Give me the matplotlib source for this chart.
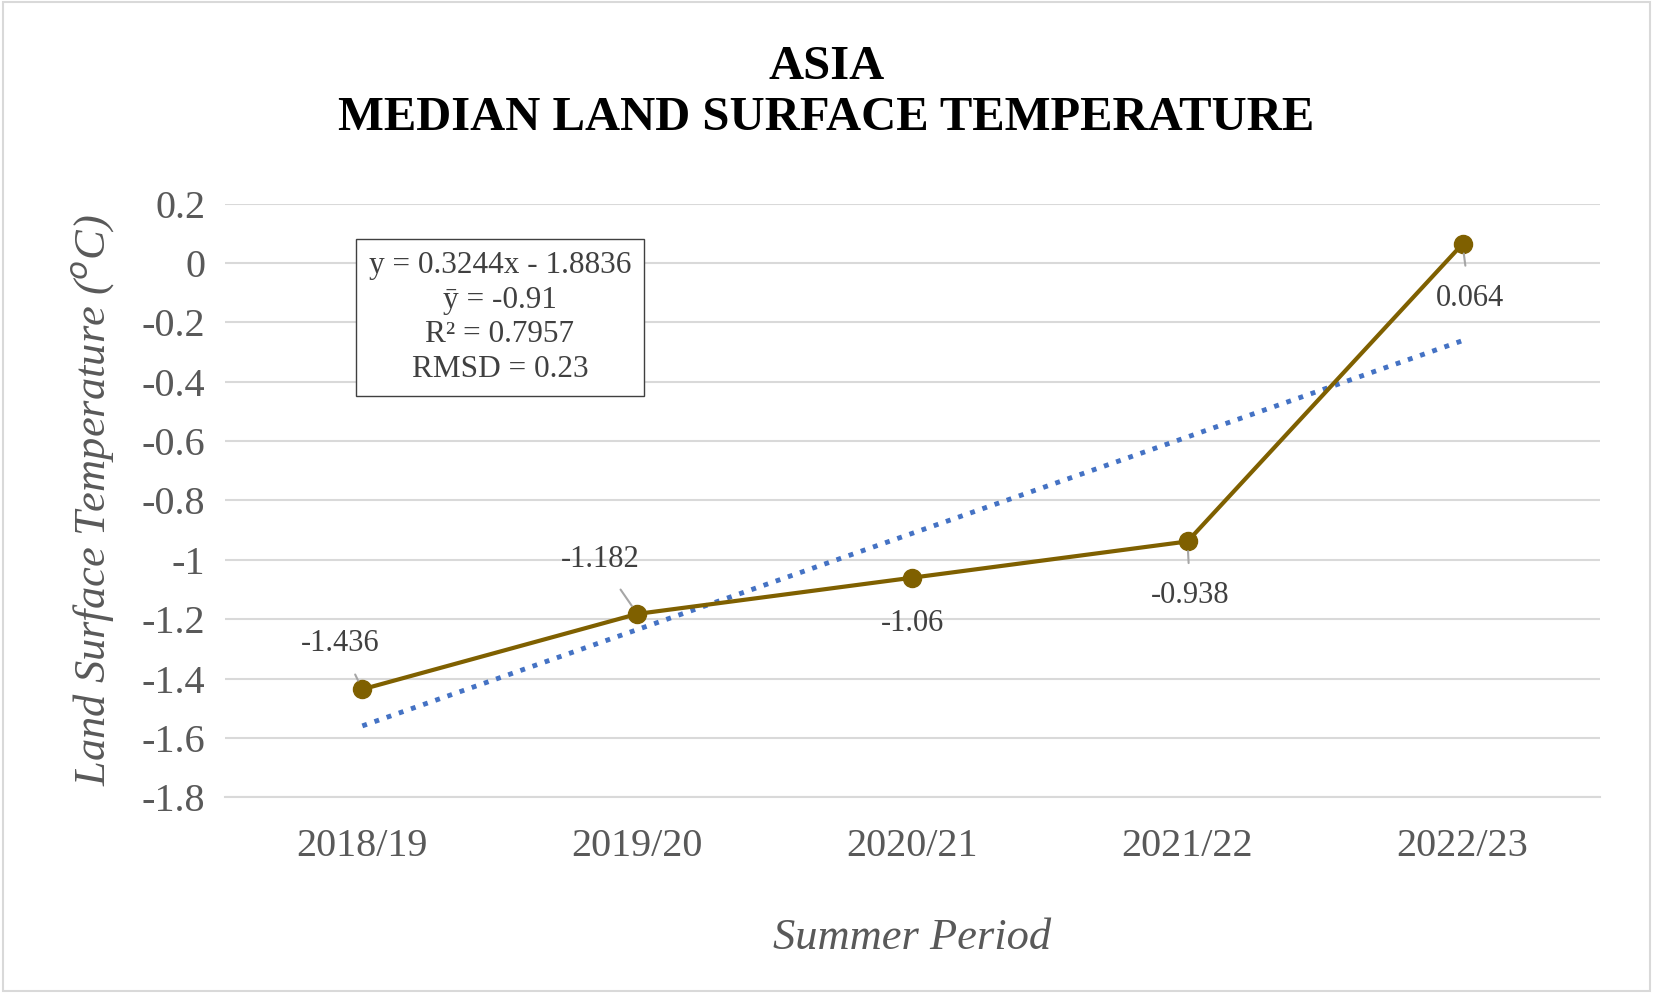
import matplotlib
matplotlib.use("Agg")
import matplotlib.pyplot as plt
from matplotlib.patches import Rectangle

periods = ["2018/19", "2019/20", "2020/21", "2021/22", "2022/23"]
values = [-1.436, -1.182, -1.06, -0.938, 0.064]
labels = ["-1.436", "-1.182", "-1.06", "-0.938", "0.064"]
slope, intercept = 0.3244, -1.8836
label_offsets = [(-16, 33), (-27, 39), (0, -33), (2, -39), (5, -39)]
leader = [True, True, False, True, True]

plt.rcParams['font.family'] = ['Liberation Serif', 'DejaVu Serif']
fig = plt.figure(figsize=(16.53, 9.93), dpi=100)
fig.patches.append(Rectangle((0.002, 0.002), 0.996, 0.996, transform=fig.transFigure,
                             fill=False, edgecolor='#d9d9d9', linewidth=1.5))
ax = fig.add_axes([0.136, 0.197, 0.832, 0.598])
x = list(range(1, len(periods) + 1))
ax.set_xlim(0.5, 5.5)
ax.set_ylim(-1.8, 0.2)
ax.set_yticks([0.2, 0, -0.2, -0.4, -0.6, -0.8, -1, -1.2, -1.4, -1.6, -1.8])
ax.set_yticklabels(["0.2", "0", "-0.2", "-0.4", "-0.6", "-0.8", "-1", "-1.2", "-1.4", "-1.6", "-1.8"])
ax.set_xticks(x)
ax.set_xticklabels(periods)
ax.grid(axis='y', color='#d9d9d9', linewidth=1.5)
ax.set_axisbelow(True)
for s in ['top', 'right', 'left']:
    ax.spines[s].set_visible(False)
ax.spines['bottom'].set_color('#d9d9d9')
ax.spines['bottom'].set_linewidth(1.5)
ax.tick_params(axis='y', length=0, labelsize=29, labelcolor='#595959', pad=14)
ax.tick_params(axis='x', length=0, labelsize=29, labelcolor='#595959', pad=22)

ax.plot(x, [slope * xi + intercept for xi in x], linestyle=':', color='#4472C4', linewidth=3.5)
ax.plot(x, values, color='#7F6000', linewidth=3, marker='o', markersize=13, zorder=3)

for xi, v, lab, off, ld in zip(x, values, labels, label_offsets, leader):
    ap = dict(arrowstyle='-', color='#a6a6a6', lw=1.5, shrinkA=11, shrinkB=7) if ld else None
    ax.annotate(lab, (xi, v), xytext=off, textcoords='offset points', ha='center', va='center',
                fontsize=22, color='#404040', arrowprops=ap)

ax.text(0.2, 0.92, "y = 0.3244x - 1.8836\nȳ = -0.91\nR² = 0.7957\nRMSD = 0.23",
        transform=ax.transAxes, ha='center', va='top', fontsize=22.5, color='#404040',
        linespacing=1.25, bbox=dict(boxstyle='square,pad=0.4', fc='white', ec='#404040', lw=1))

ax.set_ylabel("Land Surface Temperature ($^o$C)", fontsize=32, style='italic', color='#595959', labelpad=18)
ax.set_xlabel("Summer Period", fontsize=32, style='italic', color='#595959', labelpad=38)
fig.text(0.5, 0.907, "ASIA\nMEDIAN LAND SURFACE TEMPERATURE", ha='center', va='center',
         fontsize=35, fontweight='bold', linespacing=1.2)
fig.savefig("out.png", dpi=100)
